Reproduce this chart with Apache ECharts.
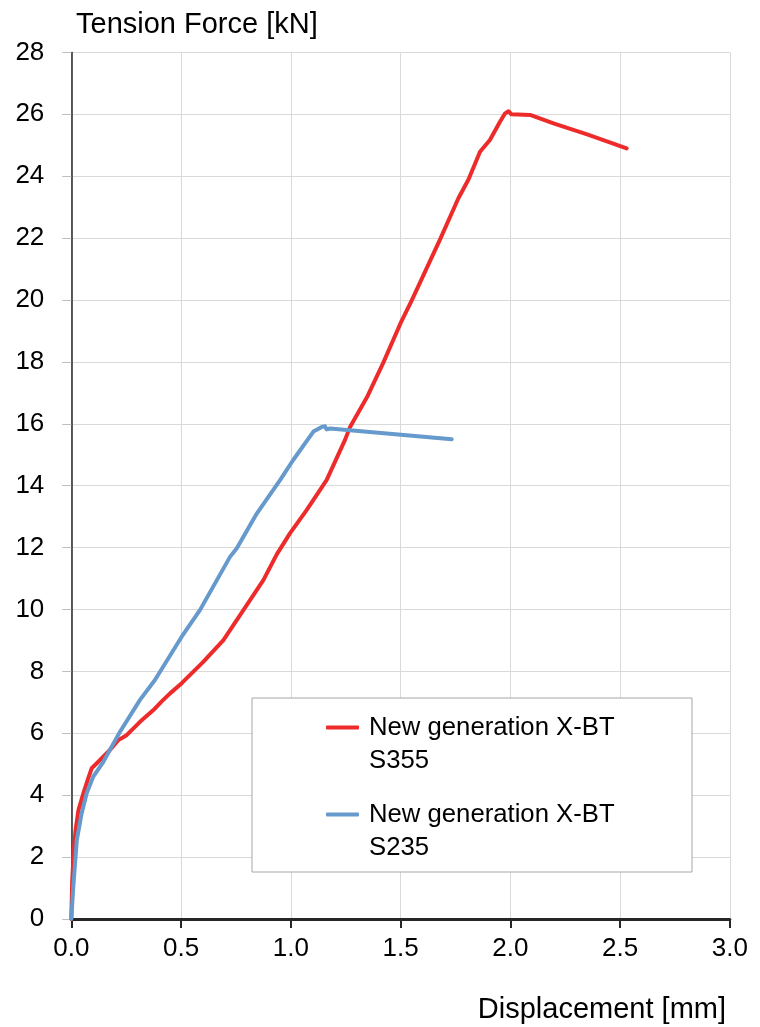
<!DOCTYPE html>
<html>
<head>
<meta charset="utf-8">
<script src="https://cdn.jsdelivr.net/npm/echarts@6/dist/echarts.min.js"></script>
<style>
html,body{margin:0;padding:0;background:#fff;}
#chart{width:760px;height:1027px;}
</style>
</head>
<body>
<div id="chart"></div>
<script>
// Data
const s355Name = 'New generation X-BT\nS355';
const s235Name = 'New generation X-BT\nS235';

const s355X = [0, 0.004, 0.012, 0.02, 0.032, 0.055, 0.075, 0.093, 0.123, 0.176, 0.214, 0.252, 0.313, 0.374, 0.412, 0.45, 0.503, 0.6, 0.693, 0.784, 0.875, 0.936, 0.996, 1.072, 1.163, 1.247, 1.27, 1.35, 1.421, 1.5, 1.55, 1.68, 1.763, 1.81, 1.862, 1.907, 1.953, 1.975, 1.992, 2.005, 2.014, 2.09, 2.2, 2.35, 2.53];
const s355Y = [0, 1.2, 2.3, 2.9, 3.5, 4.06, 4.5, 4.87, 5.08, 5.46, 5.78, 5.94, 6.37, 6.75, 7.03, 7.29, 7.62, 8.3, 9.01, 9.98, 10.95, 11.78, 12.46, 13.21, 14.18, 15.48, 15.9, 16.9, 17.97, 19.25, 19.97, 21.96, 23.28, 23.9, 24.79, 25.17, 25.76, 26.02, 26.1, 26.0, 25.98, 25.98, 25.7, 25.35, 24.9];

const s235X = [0, 0.009, 0.025, 0.047, 0.07, 0.1, 0.146, 0.184, 0.222, 0.313, 0.381, 0.503, 0.586, 0.723, 0.754, 0.845, 0.951, 1.011, 1.103, 1.141, 1.156, 1.163, 1.179, 1.45, 1.733];
const s235Y = [0, 1.04, 2.55, 3.41, 4.06, 4.6, 5.08, 5.57, 6.05, 7.08, 7.72, 9.12, 9.98, 11.7, 11.98, 13.1, 14.18, 14.83, 15.75, 15.9, 15.92, 15.82, 15.85, 15.68, 15.5];

const yTitle = 'Tension Force [kN]';
const xTitle = 'Displacement [mm]';

const FONT = '"Liberation Sans", Arial, sans-serif';
const pairs = (xs, ys) => xs.map((x, i) => [x, ys[i]]);

const chart = echarts.init(document.getElementById('chart'), null, {renderer: 'canvas'});
chart.setOption({
  animation: false,
  backgroundColor: '#ffffff',
  grid: {left: 71.3, right: 30.2, top: 52.4, bottom: 108, containLabel: false},
  xAxis: {
    type: 'value', min: 0, max: 3, interval: 0.5,
    axisLine: {show: true, onZero: false, lineStyle: {color: '#262626', width: 3}},
    axisTick: {show: true, length: 9, lineStyle: {color: '#262626', width: 2}},
    axisLabel: {margin: 17, fontSize: 26, color: '#000', fontFamily: FONT, formatter: v => v.toFixed(1)},
    splitLine: {show: true, lineStyle: {color: '#d9d9d9', width: 1}}
  },
  yAxis: {
    type: 'value', min: 0, max: 28, interval: 2,
    axisLine: {show: true, lineStyle: {color: '#262626', width: 1.5}},
    axisTick: {show: true, length: 9, lineStyle: {color: '#bfbfbf', width: 1}},
    axisLabel: {margin: 27, fontSize: 26, color: '#000', fontFamily: FONT},
    splitLine: {show: true, lineStyle: {color: '#d9d9d9', width: 1}}
  },
  legend: {
    orient: 'vertical',
    left: 326, top: 678,
    padding: 0,
    itemGap: -12,
    itemWidth: 33, itemHeight: 4,
    icon: 'roundRect',
    formatter: n => ' \n' + n,
    textStyle: {fontSize: 25.7, lineHeight: 33, color: '#000', fontFamily: FONT, padding: [0, 0, 0, 5]},
    data: [s355Name, s235Name],
    z: 10
  },
  graphic: [
    {type: 'rect', z: 5, shape: {x: 252, y: 698, width: 440, height: 174},
     style: {fill: '#ffffff', stroke: '#a6a6a6', lineWidth: 1}},
    {type: 'text', left: 76, top: 10, z: 5,
     style: {text: yTitle, fill: '#000', font: '29px "Liberation Sans", Arial, sans-serif'}},
    {type: 'text', right: 34, top: 995, z: 5,
     style: {text: xTitle, fill: '#000', font: '29px "Liberation Sans", Arial, sans-serif'}}
  ],
  series: [
    {name: s355Name, type: 'line', data: pairs(s355X, s355Y), symbol: 'none', showSymbol: false,
     smooth: false,
     lineStyle: {color: '#ee2b2b', width: 4, join: 'round', cap: 'round'}, itemStyle: {color: '#ee2b2b'}, z: 3},
    {name: s235Name, type: 'line', data: pairs(s235X, s235Y), symbol: 'none', showSymbol: false,
     smooth: false,
     lineStyle: {color: '#6699cc', width: 4, join: 'round', cap: 'round'}, itemStyle: {color: '#6699cc'}, z: 3}
  ]
});
</script>
</body>
</html>
